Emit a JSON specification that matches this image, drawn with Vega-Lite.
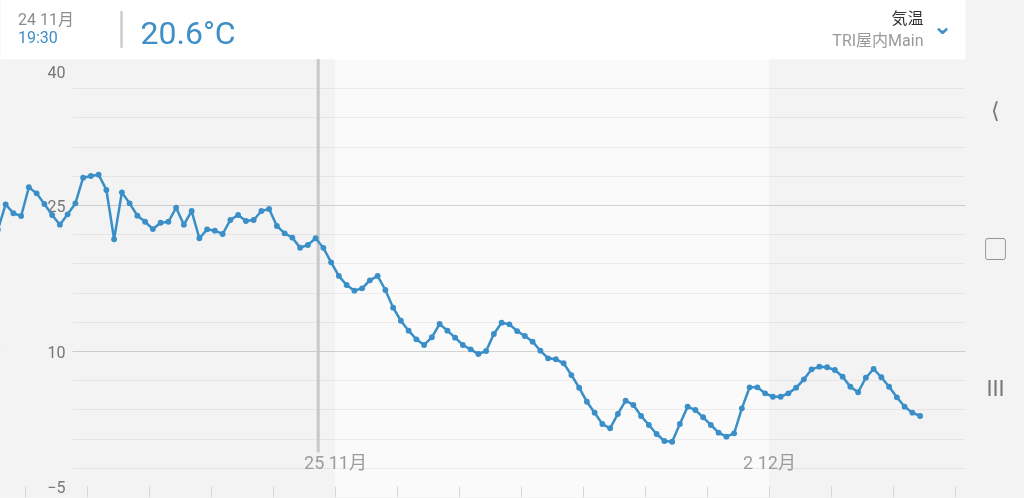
{
  "$schema": "https://vega.github.io/schema/vega-lite/v6.json",
  "width": 965,
  "height": 438,
  "autosize": {"type": "none"},
  "padding": {"left": 0, "top": 59, "right": 59, "bottom": 1},
  "background": "#f3f3f3",
  "config": {
    "view": {"stroke": null, "fill": "#fafafa"},
    "font": "Roboto, 'Noto Sans CJK JP', sans-serif"
  },
  "title": {
    "text": "24 11月",
    "subtitle": "19:30",
    "anchor": "start",
    "frame": "group",
    "orient": "top",
    "color": "#8d8d8d",
    "fontSize": 16,
    "fontWeight": "normal",
    "subtitleColor": "#3d8fc6",
    "subtitleFontSize": 16,
    "subtitlePadding": 2,
    "dx": 18,
    "offset": -35.5
  },
  "datasets": {
    "weeks": [
      {"start": "2024-11-18T00:00", "end": "2024-11-25T00:00", "shade": "odd"},
      {"start": "2024-11-25T00:00", "end": "2024-12-02T00:00", "shade": "even"},
      {"start": "2024-12-02T00:00", "end": "2024-12-09T00:00", "shade": "odd"}
    ],
    "cursor": [{"time": "2024-11-24T17:30"}],
    "temps": [
      {"time": "2024-11-19T13:30", "temp": 22.46},
      {"time": "2024-11-19T16:30", "temp": 25.07},
      {"time": "2024-11-19T19:30", "temp": 24.15},
      {"time": "2024-11-19T22:30", "temp": 23.87},
      {"time": "2024-11-20T01:30", "temp": 26.82},
      {"time": "2024-11-20T04:30", "temp": 26.2},
      {"time": "2024-11-20T07:30", "temp": 25.1},
      {"time": "2024-11-20T10:30", "temp": 23.97},
      {"time": "2024-11-20T13:30", "temp": 22.98},
      {"time": "2024-11-20T16:30", "temp": 24.04},
      {"time": "2024-11-20T19:30", "temp": 25.17},
      {"time": "2024-11-20T22:30", "temp": 27.8},
      {"time": "2024-11-21T01:30", "temp": 27.98},
      {"time": "2024-11-21T04:30", "temp": 28.11},
      {"time": "2024-11-21T07:30", "temp": 26.54},
      {"time": "2024-11-21T10:30", "temp": 21.48},
      {"time": "2024-11-21T13:30", "temp": 26.3},
      {"time": "2024-11-21T16:30", "temp": 25.17},
      {"time": "2024-11-21T19:30", "temp": 23.9},
      {"time": "2024-11-21T22:30", "temp": 23.28},
      {"time": "2024-11-22T01:30", "temp": 22.53},
      {"time": "2024-11-22T04:30", "temp": 23.18},
      {"time": "2024-11-22T07:30", "temp": 23.28},
      {"time": "2024-11-22T10:30", "temp": 24.72},
      {"time": "2024-11-22T13:30", "temp": 22.98},
      {"time": "2024-11-22T16:30", "temp": 24.38},
      {"time": "2024-11-22T19:30", "temp": 21.58},
      {"time": "2024-11-22T22:30", "temp": 22.5},
      {"time": "2024-11-23T01:30", "temp": 22.36},
      {"time": "2024-11-23T04:30", "temp": 22.02},
      {"time": "2024-11-23T07:30", "temp": 23.46},
      {"time": "2024-11-23T10:30", "temp": 23.97},
      {"time": "2024-11-23T13:30", "temp": 23.36},
      {"time": "2024-11-23T16:30", "temp": 23.46},
      {"time": "2024-11-23T19:30", "temp": 24.38},
      {"time": "2024-11-23T22:30", "temp": 24.59},
      {"time": "2024-11-24T01:30", "temp": 22.84},
      {"time": "2024-11-24T04:30", "temp": 22.09},
      {"time": "2024-11-24T07:30", "temp": 21.64},
      {"time": "2024-11-24T10:30", "temp": 20.61},
      {"time": "2024-11-24T13:30", "temp": 20.89},
      {"time": "2024-11-24T16:30", "temp": 21.58},
      {"time": "2024-11-24T19:30", "temp": 20.6},
      {"time": "2024-11-24T22:30", "temp": 19.11},
      {"time": "2024-11-25T01:30", "temp": 17.71},
      {"time": "2024-11-25T04:30", "temp": 16.78},
      {"time": "2024-11-25T07:30", "temp": 16.2},
      {"time": "2024-11-25T10:30", "temp": 16.44},
      {"time": "2024-11-25T13:30", "temp": 17.26},
      {"time": "2024-11-25T16:30", "temp": 17.71},
      {"time": "2024-11-25T19:30", "temp": 16.27},
      {"time": "2024-11-25T22:30", "temp": 14.45},
      {"time": "2024-11-26T01:30", "temp": 13.11},
      {"time": "2024-11-26T04:30", "temp": 12.09},
      {"time": "2024-11-26T07:30", "temp": 11.2},
      {"time": "2024-11-26T10:30", "temp": 10.62},
      {"time": "2024-11-26T13:30", "temp": 11.41},
      {"time": "2024-11-26T16:30", "temp": 12.77},
      {"time": "2024-11-26T19:30", "temp": 12.09},
      {"time": "2024-11-26T22:30", "temp": 11.37},
      {"time": "2024-11-27T01:30", "temp": 10.62},
      {"time": "2024-11-27T04:30", "temp": 10.17},
      {"time": "2024-11-27T07:30", "temp": 9.69},
      {"time": "2024-11-27T10:30", "temp": 10.0},
      {"time": "2024-11-27T13:30", "temp": 11.75},
      {"time": "2024-11-27T16:30", "temp": 12.91},
      {"time": "2024-11-27T19:30", "temp": 12.74},
      {"time": "2024-11-27T22:30", "temp": 12.05},
      {"time": "2024-11-28T01:30", "temp": 11.54},
      {"time": "2024-11-28T04:30", "temp": 10.96},
      {"time": "2024-11-28T07:30", "temp": 10.03},
      {"time": "2024-11-28T10:30", "temp": 9.25},
      {"time": "2024-11-28T13:30", "temp": 9.15},
      {"time": "2024-11-28T16:30", "temp": 8.74},
      {"time": "2024-11-28T19:30", "temp": 7.53},
      {"time": "2024-11-28T22:30", "temp": 6.23},
      {"time": "2024-11-29T01:30", "temp": 4.79},
      {"time": "2024-11-29T04:30", "temp": 3.66},
      {"time": "2024-11-29T07:30", "temp": 2.5},
      {"time": "2024-11-29T10:30", "temp": 2.06},
      {"time": "2024-11-29T13:30", "temp": 3.53},
      {"time": "2024-11-29T16:30", "temp": 4.89},
      {"time": "2024-11-29T19:30", "temp": 4.45},
      {"time": "2024-11-29T22:30", "temp": 3.32},
      {"time": "2024-11-30T01:30", "temp": 2.4},
      {"time": "2024-11-30T04:30", "temp": 1.47},
      {"time": "2024-11-30T07:30", "temp": 0.75},
      {"time": "2024-11-30T10:30", "temp": 0.68},
      {"time": "2024-11-30T13:30", "temp": 2.5},
      {"time": "2024-11-30T16:30", "temp": 4.28},
      {"time": "2024-11-30T19:30", "temp": 3.94},
      {"time": "2024-11-30T22:30", "temp": 3.19},
      {"time": "2024-12-01T01:30", "temp": 2.4},
      {"time": "2024-12-01T04:30", "temp": 1.61},
      {"time": "2024-12-01T07:30", "temp": 1.2},
      {"time": "2024-12-01T10:30", "temp": 1.54},
      {"time": "2024-12-01T13:30", "temp": 4.11},
      {"time": "2024-12-01T16:30", "temp": 6.27},
      {"time": "2024-12-01T19:30", "temp": 6.27},
      {"time": "2024-12-01T22:30", "temp": 5.65},
      {"time": "2024-12-02T01:30", "temp": 5.3},
      {"time": "2024-12-02T04:30", "temp": 5.3},
      {"time": "2024-12-02T07:30", "temp": 5.65},
      {"time": "2024-12-02T10:30", "temp": 6.23},
      {"time": "2024-12-02T13:30", "temp": 7.09},
      {"time": "2024-12-02T16:30", "temp": 8.12},
      {"time": "2024-12-02T19:30", "temp": 8.39},
      {"time": "2024-12-02T22:30", "temp": 8.33},
      {"time": "2024-12-03T01:30", "temp": 8.05},
      {"time": "2024-12-03T04:30", "temp": 7.36},
      {"time": "2024-12-03T07:30", "temp": 6.33},
      {"time": "2024-12-03T10:30", "temp": 5.76},
      {"time": "2024-12-03T13:30", "temp": 7.26},
      {"time": "2024-12-03T16:30", "temp": 8.15},
      {"time": "2024-12-03T19:30", "temp": 7.3},
      {"time": "2024-12-03T22:30", "temp": 6.33},
      {"time": "2024-12-04T01:30", "temp": 5.24},
      {"time": "2024-12-04T04:30", "temp": 4.28},
      {"time": "2024-12-04T07:30", "temp": 3.66},
      {"time": "2024-12-04T10:30", "temp": 3.32}
    ]
  },
  "resolve": {
    "scale": {"x": "independent"},
    "axis": {"x": "independent", "y": "independent"}
  },
  "layer": [
    {
      "data": {"name": "weeks"},
      "mark": {"type": "rect", "blend": "multiply"},
      "encoding": {
        "x": {
          "field": "start",
          "type": "temporal",
          "scale": {
            "domain": [
              {"year": 2024, "month": "nov", "date": 19, "hours": 14, "minutes": 19, "seconds": 21},
              {"year": 2024, "month": "dec", "date": 5, "hours": 3, "minutes": 52, "seconds": 15}
            ],
            "nice": false,
            "clamp": true
          },
          "axis": {
            "orient": "bottom",
            "zindex": 1,
            "title": null,
            "grid": false,
            "domain": false,
            "tickCount": {"interval": "day", "step": 1},
            "tickSize": -11,
            "tickColor": "#d6d6d6",
            "tickWidth": 1,
            "labelExpr": "day(datum.value) === 1 ? timeFormat(datum.value, '%-d %-m月') : ''",
            "labelPadding": -23,
            "labelBaseline": "middle",
            "labelAlign": "center",
            "labelFlush": false,
            "labelOverlap": false,
            "labelFontSize": 18,
            "labelColor": "#9b9b9b"
          }
        },
        "x2": {"field": "end"},
        "color": {
          "field": "shade",
          "type": "nominal",
          "scale": {"domain": ["odd", "even"], "range": ["#f8f8f8", "#ffffff"]},
          "legend": null
        }
      }
    },
    {
      "data": {"name": "cursor"},
      "mark": {"type": "rule", "color": "#c8c8c8", "strokeWidth": 3},
      "encoding": {
        "x": {
          "field": "time",
          "type": "temporal",
          "scale": {
            "domain": [
              {"year": 2024, "month": "nov", "date": 19, "hours": 14, "minutes": 19, "seconds": 21},
              {"year": 2024, "month": "dec", "date": 5, "hours": 3, "minutes": 52, "seconds": 15}
            ],
            "nice": false
          },
          "axis": {
            "orient": "top",
            "offset": 29.5,
            "grid": false,
            "ticks": false,
            "labels": false,
            "domain": true,
            "domainColor": "#ffffff",
            "domainWidth": 60,
            "title": "20.6°C",
            "titleX": 140,
            "titleY": 13.5,
            "titleAlign": "left",
            "titleBaseline": "alphabetic",
            "titleFontSize": 32,
            "titleFontWeight": "normal",
            "titleColor": "#3d8fc6"
          }
        },
        "y": {
          "datum": 40,
          "type": "quantitative",
          "scale": {"domain": [-5, 40], "nice": false, "zero": false},
          "axis": {
            "orient": "left",
            "offset": -36,
            "grid": false,
            "ticks": false,
            "labels": false,
            "domain": true,
            "domainColor": "#fafafa",
            "domainWidth": 72,
            "title": "│",
            "titleAngle": 0,
            "titleX": 85,
            "titleY": -29,
            "titleAlign": "center",
            "titleBaseline": "middle",
            "titleFont": "DejaVu Sans",
            "titleFontSize": 31,
            "titleFontWeight": "normal",
            "titleColor": "#cccccc"
          }
        },
        "y2": {"datum": -0.4}
      }
    },
    {
      "data": {"name": "temps"},
      "mark": {"type": "line", "color": "#3a8fc8", "strokeWidth": 2.5},
      "encoding": {
        "x": {
          "field": "time",
          "type": "temporal",
          "scale": {
            "domain": [
              {"year": 2024, "month": "nov", "date": 19, "hours": 14, "minutes": 19, "seconds": 21},
              {"year": 2024, "month": "dec", "date": 5, "hours": 3, "minutes": 52, "seconds": 15}
            ],
            "nice": false
          },
          "axis": {
            "orient": "top",
            "grid": false,
            "ticks": false,
            "labels": false,
            "domain": false,
            "title": "気温",
            "titleX": 923,
            "titleY": -40.5,
            "titleAlign": "right",
            "titleBaseline": "middle",
            "titleFontSize": 16,
            "titleFontWeight": "normal",
            "titleColor": "#333333"
          }
        },
        "y": {
          "field": "temp",
          "type": "quantitative",
          "axis": {
            "orient": "left",
            "values": [-5, -2, 1, 4, 7, 10, 13, 16, 19, 22, 25, 28, 31, 34, 37, 40],
            "grid": true,
            "gridColor": {"condition": {"test": "datum.value === 10 || datum.value === 25", "value": "#d2d2d2"}, "value": "#ececec"},
            "gridOpacity": {"condition": {"test": "datum.value === -5 || datum.value === 40", "value": 0}, "value": 1},
            "domain": false,
            "ticks": false,
            "labelExpr": "(datum.value + 5) % 15 === 0 ? datum.label : ''",
            "labelPadding": -65,
            "labelAlign": "right",
            "labelBaseline": "middle",
            "labelOffset": {"condition": [{"test": "datum.value === 40", "value": 13}, {"test": "datum.value === -5", "value": -10}], "value": 1},
            "labelFlush": false,
            "labelOverlap": false,
            "labelFontSize": 16,
            "labelColor": "#7a7a7a",
            "title": "⌄",
            "titleAngle": 0,
            "titleX": 942,
            "titleY": -32.5,
            "titleAlign": "center",
            "titleBaseline": "middle",
            "titleFont": "DejaVu Sans",
            "titleFontSize": 24,
            "titleFontWeight": "bold",
            "titleColor": "#3d8fc6"
          }
        }
      }
    },
    {
      "data": {"name": "temps"},
      "mark": {"type": "circle", "color": "#3a8fc8", "size": 34, "opacity": 1},
      "encoding": {
        "x": {
          "field": "time",
          "type": "temporal",
          "scale": {
            "domain": [
              {"year": 2024, "month": "nov", "date": 19, "hours": 14, "minutes": 19, "seconds": 21},
              {"year": 2024, "month": "dec", "date": 5, "hours": 3, "minutes": 52, "seconds": 15}
            ],
            "nice": false
          },
          "axis": {
            "orient": "top",
            "grid": false,
            "ticks": false,
            "labels": false,
            "domain": false,
            "title": "TRI屋内Main",
            "titleX": 923,
            "titleY": -18.5,
            "titleAlign": "right",
            "titleBaseline": "middle",
            "titleFontSize": 16,
            "titleFontWeight": "normal",
            "titleColor": "#9a9a9a"
          }
        },
        "y": {
          "field": "temp",
          "type": "quantitative",
          "axis": {
            "orient": "right",
            "grid": false,
            "ticks": false,
            "labels": false,
            "domain": false,
            "title": ["⟨", "▢", "III"],
            "titleAngle": 0,
            "titleX": 30,
            "titleY": 51,
            "titleAlign": "center",
            "titleBaseline": "middle",
            "titleLineHeight": 139,
            "titleFontSize": 22,
            "titleFontWeight": "normal",
            "titleColor": "#777777"
          }
        }
      }
    }
  ]
}
